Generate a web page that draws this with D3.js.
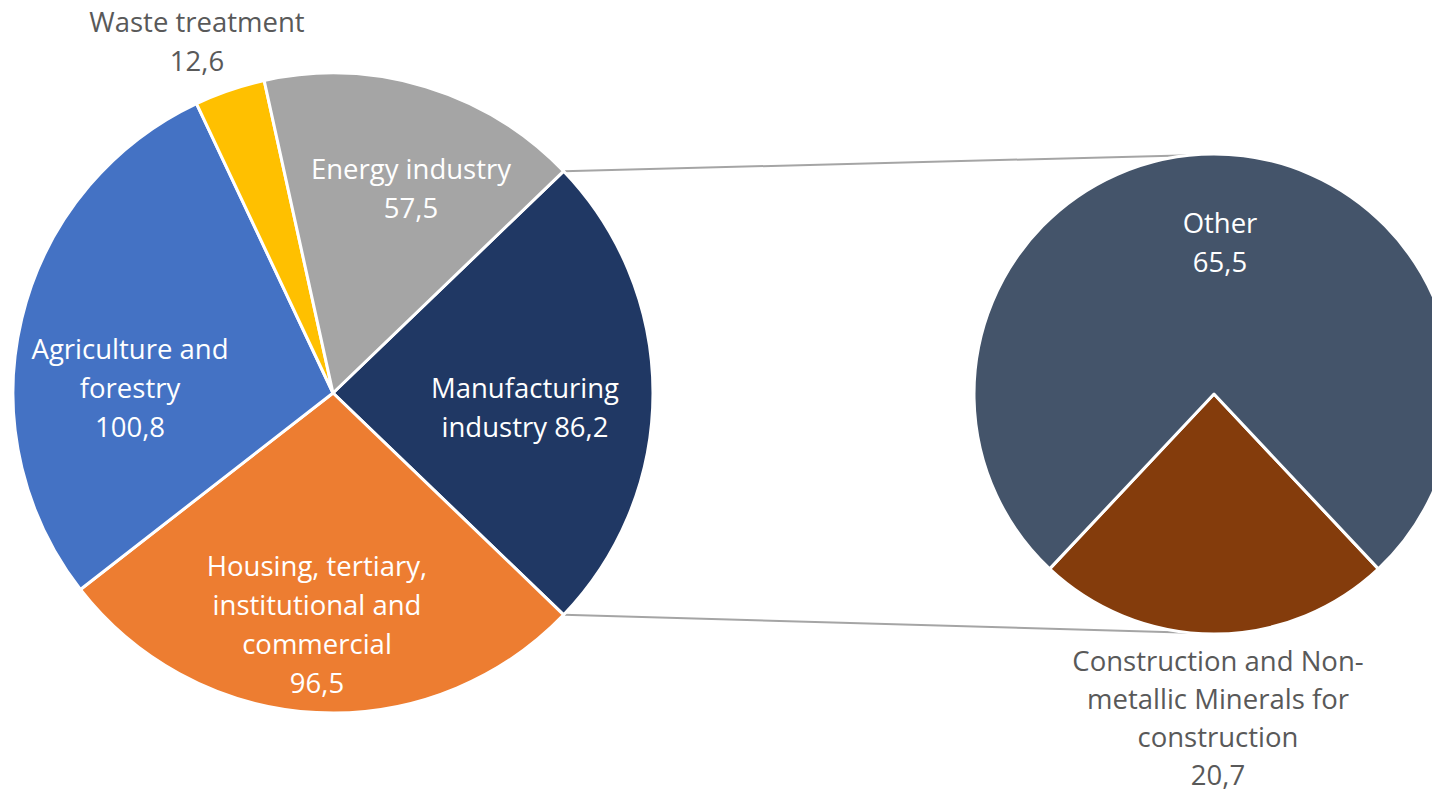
<!DOCTYPE html>
<html>
<head>
<meta charset="utf-8">
<script src="https://cdn.jsdelivr.net/npm/d3@7"></script>
<style>
  html, body { margin: 0; padding: 0; background: #ffffff; }
  svg { display: block; }
  text { font-family: "Open Sans", Lato, sans-serif; }
</style>
</head>
<body>
<svg id="chart" width="1432" height="794"></svg>
<script>
// Emissions by sector (Mt CO2e) — main pie, clockwise from the split slice
const mainCategories = ["Manufacturing industry", "Housing, tertiary, institutional and commercial", "Agriculture and forestry", "Waste treatment", "Energy industry"];
const mainValues = [86.2, 96.5, 100.8, 12.6, 57.5];

// Breakdown of the manufacturing slice — secondary pie
const subCategories = ["Construction and Non-metallic Minerals for construction", "Other"];
const subValues = [20.7, 65.5];

// Label text as it wraps on the chart
const labelLines = {
  "Manufacturing industry": ["Manufacturing", "industry {v}"],
  "Housing, tertiary, institutional and commercial": ["Housing, tertiary,", "institutional and", "commercial", "{v}"],
  "Agriculture and forestry": ["Agriculture and", "forestry", "{v}"],
  "Waste treatment": ["Waste treatment", "{v}"],
  "Energy industry": ["Energy industry", "{v}"],
  "Construction and Non-metallic Minerals for construction": ["Construction and Non-", "metallic Minerals for", "construction", "{v}"],
  "Other": ["Other", "{v}"]
};

// Layout
const main = { cx: 333, cy: 393, r: 320 };
const sub = { cx: 1214, cy: 394, r: 240 };
const lineH = 39.3;
const labelPos = {
  "Manufacturing industry": [525, 387, lineH],
  "Housing, tertiary, institutional and commercial": [317, 565, lineH],
  "Agriculture and forestry": [130, 348, lineH],
  "Waste treatment": [197, 21, lineH],
  "Energy industry": [411, 168, lineH],
  "Construction and Non-metallic Minerals for construction": [1218, 660, 38.3],
  "Other": [1220, 222, lineH]
};
const colors = {
  "Manufacturing industry": "#203864",
  "Housing, tertiary, institutional and commercial": "#ED7D31",
  "Agriculture and forestry": "#4472C4",
  "Waste treatment": "#FFC000",
  "Energy industry": "#A5A5A5",
  "Construction and Non-metallic Minerals for construction": "#843C0C",
  "Other": "#44546A"
};
const outsideLabels = new Set(["Waste treatment", "Construction and Non-metallic Minerals for construction"]);

const fmt = v => d3.format(".1f")(v).replace(".", ",");
const svg = d3.select("#chart");
const TAU = Math.PI * 2;

// Main pie: the split slice is centred on the right (90°)
const mainTotal = d3.sum(mainValues);
const splitSpan = mainValues[0] / mainTotal * TAU;
const mainPie = d3.pie().sort(null)
  .startAngle(Math.PI / 2 - splitSpan / 2)
  .endAngle(Math.PI / 2 - splitSpan / 2 + TAU);
const mainArcs = mainPie(mainValues).map((a, i) => Object.assign(a, { name: mainCategories[i] }));

// Secondary pie: the first slice is centred at the bottom (180°)
const subTotal = d3.sum(subValues);
const subSpan = subValues[0] / subTotal * TAU;
const subPie = d3.pie().sort(null)
  .startAngle(Math.PI - subSpan / 2)
  .endAngle(Math.PI - subSpan / 2 + TAU);
const subArcs = subPie(subValues).map((a, i) => Object.assign(a, { name: subCategories[i] }));

// Connector lines from the split slice edges to the secondary pie
const polar = (c, r, ang) => [c.cx + r * Math.sin(ang), c.cy - r * Math.cos(ang)];
const splitArc = mainArcs[0];
const connectors = [
  [polar(main, main.r, splitArc.startAngle), polar(sub, sub.r, -0.1)],
  [polar(main, main.r, splitArc.endAngle), polar(sub, sub.r, Math.PI + 0.1)]
];
svg.append("g").selectAll("line").data(connectors).join("line")
  .attr("x1", d => d[0][0]).attr("y1", d => d[0][1])
  .attr("x2", d => d[1][0]).attr("y2", d => d[1][1])
  .attr("stroke", "#A5A5A5").attr("stroke-width", 2);

const arcMain = d3.arc().innerRadius(0).outerRadius(main.r);
const arcSub = d3.arc().innerRadius(0).outerRadius(sub.r);

svg.append("g").attr("transform", `translate(${main.cx},${main.cy})`)
  .selectAll("path").data(mainArcs).join("path")
  .attr("d", arcMain)
  .attr("fill", d => colors[d.name])
  .attr("stroke", "#ffffff").attr("stroke-width", 3).attr("stroke-linejoin", "round");

svg.append("g").attr("transform", `translate(${sub.cx},${sub.cy})`)
  .selectAll("path").data(subArcs).join("path")
  .attr("d", arcSub)
  .attr("fill", d => colors[d.name])
  .attr("stroke", "#ffffff").attr("stroke-width", 3).attr("stroke-linejoin", "round");

// Data labels
const allArcs = mainArcs.concat(subArcs);
const labels = svg.append("g").selectAll("text").data(allArcs).join("text")
  .attr("text-anchor", "middle")
  .attr("font-size", 27.5)
  .attr("fill", d => outsideLabels.has(d.name) ? "#595959" : "#ffffff");
labels.each(function (d) {
  const [x, y, lh] = labelPos[d.name];
  d3.select(this).selectAll("tspan")
    .data(labelLines[d.name].map(s => s.replace("{v}", fmt(d.value))))
    .join("tspan")
    .attr("x", x)
    .attr("y", (s, i) => y + i * lh)
    .attr("dominant-baseline", "central")
    .text(s => s);
});
</script>
</body>
</html>
